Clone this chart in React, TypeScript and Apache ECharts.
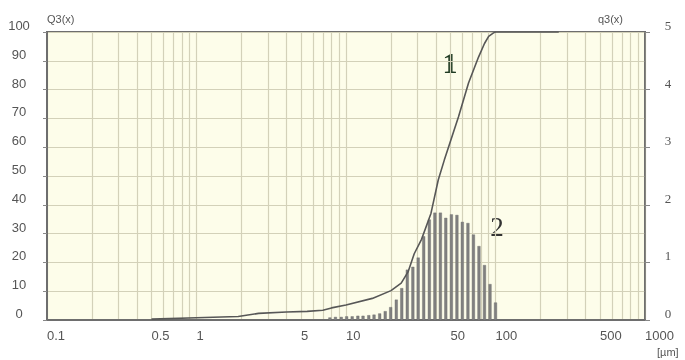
import React, { useEffect, useRef } from "react";
import * as echarts from "echarts";

// x tick labels (particle size, µm)
const xTickLabels = [0.1, 0.5, 1, 5, 10, 50, 100, 500, 1000];
// vertical grid lines (log minor lines)
const gridLineValues = [
  0.1, 0.2, 0.3, 0.4, 0.5, 0.6, 0.7, 0.8, 0.9,
  1, 2, 3, 4, 5, 6, 7, 8, 9,
  10, 20, 30, 40, 50, 60, 70, 80, 90,
  100, 200, 300, 400, 500, 600, 700, 800, 900, 1000,
];

// histogram q3(x) – class sizes (µm) and density values (right axis)
const binSizes = [
  7.8, 8.5, 9.3, 10.1, 11, 12, 13, 14.2, 15.4, 16.8, 18.3, 19.9, 21.7, 23.6,
  25.7, 28, 30.4, 33.1, 36.1, 39.3, 42.8, 46.5, 50.7, 55.2, 60, 65.4, 71.2,
  77.5, 84.4, 91.9, 100,
];
const q3Values = [
  0.04, 0.05, 0.05, 0.06, 0.06, 0.07, 0.07, 0.08, 0.09, 0.11, 0.15, 0.22,
  0.35, 0.55, 0.87, 0.92, 1.08, 1.45, 1.74, 1.86, 1.86, 1.77, 1.83, 1.82,
  1.7, 1.68, 1.48, 1.28, 0.95, 0.62, 0.3,
];

// cumulative Q3(x) curve (left axis, %)
const cumSizes = [
  0.5, 1, 1.9, 2.6, 4, 5.5, 7, 8, 10, 15, 20, 23.4, 26, 28.6, 32, 37, 41.4,
  45.5, 56.5, 66, 77, 84.4, 90, 97, 100, 265,
];
const Q3Values = [
  0.3, 0.8, 1.2, 2.3, 2.8, 3.0, 3.4, 4.2, 5.2, 7.5, 10.2, 12.8, 16.7, 23, 28,
  37, 48.6, 55.6, 70.5, 82.3, 91.3, 96, 98.5, 99.7, 100, 100,
];

const leftTicks = { min: 0, max: 100, interval: 10 };
const rightTicks = { min: 0, max: 5, interval: 1 };

export default function App() {
  const ref = useRef<HTMLDivElement>(null);
  useEffect(() => {
    const chart = echarts.init(ref.current!, null, { renderer: "svg" });
    const lg = (v: number) => Math.log10(v);
    const fmt = (v: number) => String(Number(Math.pow(10, v).toPrecision(6)));
    const gridColor = "#d3d1b9";
    const axisColor = "#6e6e6e";
    chart.setOption({
      animation: false,
      grid: {
        left: 47,
        right: 40,
        top: 32,
        bottom: 40,
        show: true,
        backgroundColor: "#fdfdea",
        borderColor: axisColor,
        borderWidth: 2,
      },
      xAxis: [
        {
          type: "log",
          logBase: 10,
          min: 0.1,
          max: 1000,
          position: "top",
          axisLine: { show: false },
          axisTick: { show: false },
          axisLabel: { show: false },
          splitLine: { show: false },
        },
        {
          type: "value",
          min: -1,
          max: 3,
          position: "bottom",
          axisLine: { show: true, onZero: false, lineStyle: { color: axisColor, width: 2 } },
          axisTick: { show: false, customValues: gridLineValues.map(lg) },
          axisLabel: {
            customValues: xTickLabels.map(lg),
            formatter: (v: number) => fmt(v),
            align: "left",
            margin: 9,
            fontSize: 13,
            color: "#555",
            fontFamily: "Liberation Sans",
          },
          splitLine: { show: true, lineStyle: { color: gridColor, width: 1.2 } },
        },
      ],
      yAxis: [
        {
          type: "value",
          ...leftTicks,
          position: "left",
          name: "Q3(x)",
          nameLocation: "end",
          nameGap: 8,
          nameTextStyle: {
            align: "left",
            verticalAlign: "bottom",
            fontSize: 11,
            color: "#555",
            fontFamily: "Liberation Sans",
          },
          axisLine: { show: true, onZero: false, lineStyle: { color: axisColor, width: 2 } },
          axisTick: { show: true, length: 4, lineStyle: { color: "#888" } },
          axisLabel: {
            margin: 28,
            align: "center",
            verticalAlign: "bottom",
            fontSize: 13,
            color: "#555",
            fontFamily: "Liberation Sans",
          },
          splitLine: { show: true, lineStyle: { color: gridColor, width: 1.2 } },
        },
        {
          type: "value",
          ...rightTicks,
          position: "right",
          name: "q3(x)",
          nameLocation: "end",
          nameGap: 8,
          nameTextStyle: {
            align: "right",
            verticalAlign: "bottom",
            padding: [0, 22, 0, 0],
            fontSize: 11,
            color: "#555",
            fontFamily: "Liberation Sans",
          },
          axisLine: { show: true, onZero: false, lineStyle: { color: axisColor, width: 1.5 } },
          axisTick: { show: true, length: 5, lineStyle: { color: "#888" } },
          axisLabel: {
            margin: 23,
            align: "center",
            verticalAlign: "bottom",
            fontSize: 13,
            color: "#555",
            fontFamily: "Liberation Serif",
          },
          splitLine: { show: false },
        },
      ],
      series: [
        {
          type: "custom",
          name: "q3",
          xAxisIndex: 0,
          yAxisIndex: 1,
          z: 3,
          silent: true,
          encode: { x: 0, y: 1 },
          data: binSizes.map((s, i) => [s, q3Values[i]]),
          renderItem: (params: any, api: any) => {
            const x = api.value(0);
            const h = api.value(1);
            const top = api.coord([x, h]);
            const base = api.coord([x, 0]);
            return {
              type: "rect",
              shape: { x: top[0] - 1.3, y: top[1], width: 2.6, height: base[1] - top[1] },
              style: { fill: "#808080", stroke: "#6a6a6a", lineWidth: 0.4 },
            };
          },
        },
        {
          type: "line",
          name: "Q3",
          xAxisIndex: 0,
          yAxisIndex: 0,
          z: 4,
          showSymbol: false,
          symbol: "none",
          lineStyle: { color: "#575757", width: 1.6 },
          data: cumSizes.map((s, i) => [s, Q3Values[i]]),
        },
      ],
      graphic: [
        {
          type: "text",
          x: 450,
          y: 62,
          style: {
            text: "1",
            font: "bold 30px 'Liberation Serif'",
            fill: "#1f3a22",
            align: "center",
            verticalAlign: "middle",
          },
        },
        {
          type: "text",
          x: 497,
          y: 227,
          style: {
            text: "2",
            font: "27px 'Liberation Serif'",
            fill: "#333",
            align: "center",
            verticalAlign: "middle",
          },
        },
        {
          type: "text",
          x: 657,
          y: 346,
          style: {
            text: "[µm]",
            font: "11px 'Liberation Sans'",
            fill: "#555",
          },
        },
      ],
    });
    return () => chart.dispose();
  }, []);
  return (
    <div
      ref={ref}
      style={{ position: "fixed", left: 0, top: 0, width: 685, height: 360 }}
    />
  );
}
